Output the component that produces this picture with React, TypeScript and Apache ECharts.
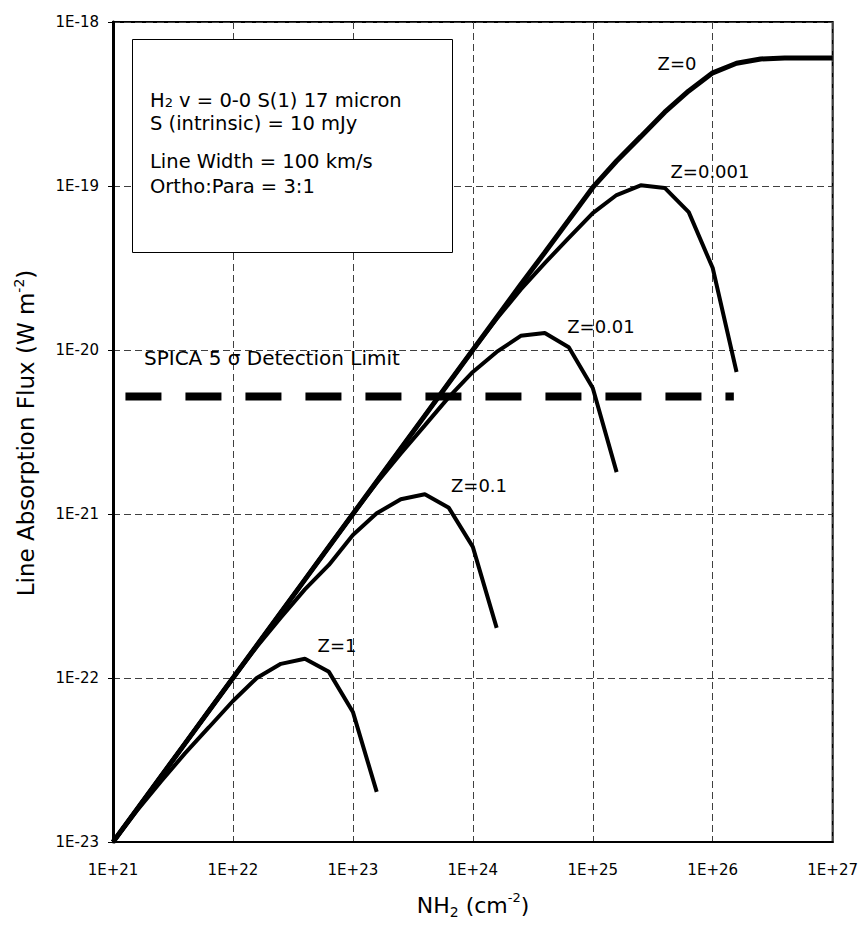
import React, { useEffect, useRef } from 'react';
import * as echarts from 'echarts';

// Column density N(H2), cm^-2 (sampled every 0.2 dex)
const columnDensity = [
  1e21, 1.58e21, 2.51e21, 3.98e21, 6.31e21,
  1e22, 1.58e22, 2.51e22, 3.98e22, 6.31e22,
  1e23, 1.58e23, 2.51e23, 3.98e23, 6.31e23,
  1e24, 1.58e24, 2.51e24, 3.98e24, 6.31e24,
  1e25, 1.58e25, 2.51e25, 3.98e25, 6.31e25,
  1e26, 1.58e26, 2.51e26, 3.98e26, 6.31e26,
  1e27,
];

// Line absorption flux, W m^-2
const fluxZ0 = [
  1.0e-23, 1.58e-23, 2.51e-23, 3.98e-23, 6.31e-23,
  1.0e-22, 1.58e-22, 2.51e-22, 3.98e-22, 6.31e-22,
  1.0e-21, 1.58e-21, 2.51e-21, 3.98e-21, 6.31e-21,
  1.0e-20, 1.58e-20, 2.51e-20, 3.93e-20, 6.2e-20,
  9.8e-20, 1.42e-19, 2.0e-19, 2.82e-19, 3.8e-19,
  4.9e-19, 5.6e-19, 5.95e-19, 6.03e-19, 6.03e-19,
  6.03e-19,
];
const fluxZ0001 = [
  1.0e-23, 1.58e-23, 2.51e-23, 3.98e-23, 6.31e-23,
  1.0e-22, 1.58e-22, 2.51e-22, 3.98e-22, 6.31e-22,
  1.0e-21, 1.58e-21, 2.51e-21, 3.98e-21, 6.31e-21,
  1.0e-20, 1.55e-20, 2.34e-20, 3.39e-20, 4.82e-20,
  6.84e-20, 8.81e-20, 1.01e-19, 9.73e-20, 6.93e-20,
  3.16e-20, 7.35e-21,
];
const fluxZ001 = [
  1.0e-23, 1.58e-23, 2.51e-23, 3.98e-23, 6.31e-23,
  1.0e-22, 1.58e-22, 2.51e-22, 3.98e-22, 6.31e-22,
  1.0e-21, 1.55e-21, 2.34e-21, 3.47e-21, 5.16e-21,
  7.35e-21, 9.73e-21, 1.22e-20, 1.27e-20, 1.04e-20,
  5.86e-21, 1.8e-21,
];
const fluxZ01 = [
  1.0e-23, 1.58e-23, 2.51e-23, 3.98e-23, 6.31e-23,
  1.0e-22, 1.55e-22, 2.34e-22, 3.47e-22, 4.89e-22,
  7.45e-22, 1.01e-21, 1.23e-21, 1.32e-21, 1.09e-21,
  6.3e-22, 2.02e-22,
];
const fluxZ1 = [
  1.0e-23, 1.55e-23, 2.34e-23, 3.47e-23, 5.01e-23,
  7.24e-23, 1.0e-22, 1.22e-22, 1.31e-22, 1.09e-22,
  6.21e-23, 2.02e-23,
];

const detectionN = [1.27e21, 1.5e26];
const detectionFlux = [5.2e-21, 5.2e-21];

const xTickLabels = ['1E+21', '1E+22', '1E+23', '1E+24', '1E+25', '1E+26', '1E+27'];
const yTickLabels = ['1E-23', '1E-22', '1E-21', '1E-20', '1E-19', '1E-18'];

const FONT = 'DejaVu Sans';

// Axes run in decades (log10); values are converted only when handed to the chart.
function pairs(xs: number[], ys: number[]) {
  return ys.map((y, i) => [Math.log10(xs[i]), Math.log10(y)]);
}

export default function App() {
  const ref = useRef<HTMLDivElement>(null);

  useEffect(() => {
    if (!ref.current) return;
    const chart = echarts.init(ref.current, null, { renderer: 'svg' });

    const curve = (name: string, ys: number[], width: number) => ({
      name,
      type: 'line',
      data: pairs(columnDensity, ys),
      showSymbol: false,
      symbol: 'none',
      lineStyle: { color: '#000', width },
      z: 4,
    });

    const option: any = {
      animation: false,
      backgroundColor: '#fff',
      grid: {
        left: 113,
        top: 22,
        width: 720,
        height: 820,
        show: true,
        borderColor: '#000',
        borderWidth: 2,
        backgroundColor: 'transparent',
      },
      xAxis: {
        type: 'value',
        min: 21,
        max: 27,
        interval: 1,
        axisLine: { show: true, lineStyle: { color: '#000', width: 2 } },
        axisTick: { show: false },
        axisLabel: {
          color: '#000',
          fontFamily: FONT,
          fontSize: 15,
          margin: 20,
          formatter: (v: number) => xTickLabels[Math.round(v) - 21] ?? '',
        },
        splitLine: { show: true, lineStyle: { color: '#404040', width: 1, type: [7, 4] } },
      },
      yAxis: {
        type: 'value',
        min: -23,
        max: -18,
        interval: 1,
        axisLine: { show: true, lineStyle: { color: '#000', width: 3 } },
        axisTick: { show: true, inside: false, length: 5, lineStyle: { color: '#000', width: 1 } },
        axisLabel: {
          color: '#000',
          fontFamily: FONT,
          fontSize: 15,
          margin: 14,
          formatter: (v: number) => yTickLabels[Math.round(v) + 23] ?? '',
        },
        splitLine: { show: true, lineStyle: { color: '#404040', width: 1, type: [7, 4] } },
      },
      series: [
        {
          name: 'SPICA 5 sigma Detection Limit',
          type: 'line',
          data: pairs(detectionN, detectionFlux),
          showSymbol: false,
          symbol: 'none',
          lineStyle: { color: '#000', width: 8, type: [36, 24], cap: 'butt' },
          z: 3,
        },
        curve('Z=0', fluxZ0, 5),
        curve('Z=0.001', fluxZ0001, 4),
        curve('Z=0.01', fluxZ001, 4),
        curve('Z=0.1', fluxZ01, 4),
        curve('Z=1', fluxZ1, 4),
      ],
      graphic: [
        {
          type: 'rect',
          z: 100,
          shape: { x: 132.5, y: 39.5, width: 320, height: 213 },
          style: { fill: '#fff', stroke: '#000', lineWidth: 1 },
        },
        {
          type: 'text', z: 101, x: 150, y: 100,
          style: {
            text: '{a|H}{s|2}{a| v = 0-0 S(1) 17 micron}',
            verticalAlign: 'middle',
            rich: {
              a: { fontFamily: FONT, fontSize: 19.5, fill: '#000', lineHeight: 24 },
              s: { fontFamily: FONT, fontSize: 13, fill: '#000', lineHeight: 24, verticalAlign: 'bottom', padding: [0, 0, 3, 0] },
            },
          },
        },
        {
          type: 'text', z: 101, x: 150, y: 123,
          style: { text: 'S (intrinsic) = 10 mJy', fontFamily: FONT, fontSize: 19.5, fill: '#000', verticalAlign: 'middle' },
        },
        {
          type: 'text', z: 101, x: 150, y: 161,
          style: { text: 'Line Width = 100 km/s', fontFamily: FONT, fontSize: 19.5, fill: '#000', verticalAlign: 'middle' },
        },
        {
          type: 'text', z: 101, x: 150, y: 186,
          style: { text: 'Ortho:Para = 3:1', fontFamily: FONT, fontSize: 19.5, fill: '#000', verticalAlign: 'middle' },
        },
        {
          type: 'text', z: 101, x: 144, y: 358,
          style: { text: 'SPICA 5 \u03c3 Detection Limit', fontFamily: FONT, fontSize: 20, fill: '#000', verticalAlign: 'middle' },
        },
        {
          type: 'text', z: 101, x: 677, y: 63,
          style: { text: 'Z=0', fontFamily: FONT, fontSize: 18, fill: '#000', align: 'center', verticalAlign: 'middle' },
        },
        {
          type: 'text', z: 101, x: 710, y: 171,
          style: { text: 'Z=0.001', fontFamily: FONT, fontSize: 18, fill: '#000', align: 'center', verticalAlign: 'middle' },
        },
        {
          type: 'text', z: 101, x: 601, y: 326,
          style: { text: 'Z=0.01', fontFamily: FONT, fontSize: 18, fill: '#000', align: 'center', verticalAlign: 'middle' },
        },
        {
          type: 'text', z: 101, x: 479, y: 485,
          style: { text: 'Z=0.1', fontFamily: FONT, fontSize: 18, fill: '#000', align: 'center', verticalAlign: 'middle' },
        },
        {
          type: 'text', z: 101, x: 337, y: 645,
          style: { text: 'Z=1', fontFamily: FONT, fontSize: 18, fill: '#000', align: 'center', verticalAlign: 'middle' },
        },
        {
          type: 'text', z: 101, x: 26, y: 433, rotation: Math.PI / 2,
          style: {
            text: '{a|Line Absorption Flux (W m}{p|-2}{a|)}',
            align: 'center',
            verticalAlign: 'middle',
            rich: {
              a: { fontFamily: FONT, fontSize: 23, fill: '#000', lineHeight: 28 },
              p: { fontFamily: FONT, fontSize: 14, fill: '#000', lineHeight: 28, verticalAlign: 'top' },
            },
          },
        },
        {
          type: 'text', z: 101, x: 473, y: 905,
          style: {
            text: '{a|NH}{s|2}{a| (cm}{p|-2}{a|)}',
            align: 'center',
            verticalAlign: 'middle',
            rich: {
              a: { fontFamily: FONT, fontSize: 22, fill: '#000', lineHeight: 28 },
              s: { fontFamily: FONT, fontSize: 14, fill: '#000', lineHeight: 28, verticalAlign: 'bottom' },
              p: { fontFamily: FONT, fontSize: 13, fill: '#000', lineHeight: 28, verticalAlign: 'top' },
            },
          },
        },
      ],
    };

    chart.setOption(option);
    return () => chart.dispose();
  }, []);

  return (
    <div
      ref={ref}
      style={{ position: 'fixed', left: 0, top: 0, width: 861, height: 927, background: '#fff' }}
    />
  );
}
